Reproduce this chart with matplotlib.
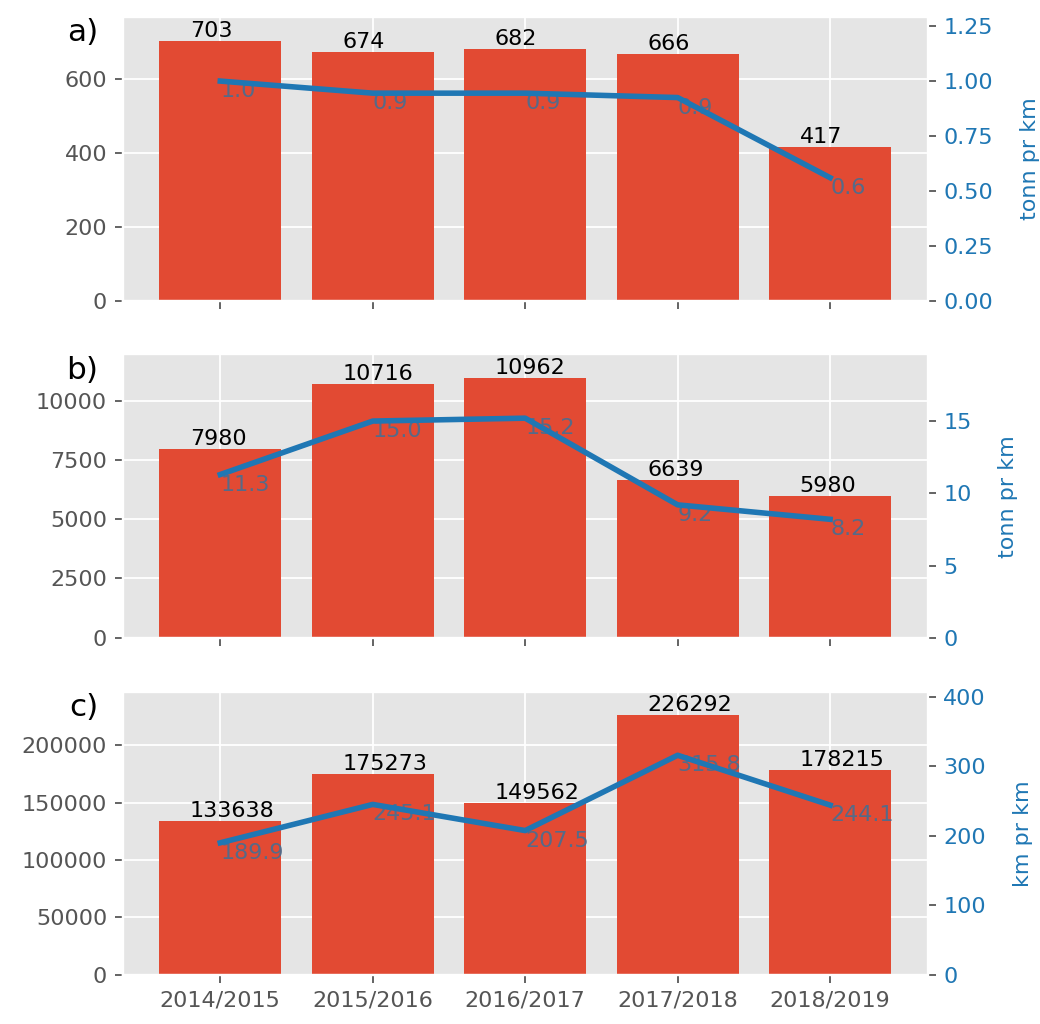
import numpy as np
import matplotlib
matplotlib.use('Agg')
import matplotlib.pyplot as plt
from matplotlib.ticker import MultipleLocator

plt.style.use('ggplot')

seasons = ['2014/2015', '2015/2016', '2016/2017', '2017/2018', '2018/2019']

# bars (left axis)
tonn_a = [703, 674, 682, 666, 417]
tonn_b = [7980, 10716, 10962, 6639, 5980]
km_c = [133638, 175273, 149562, 226292, 178215]

# lines (right axis)
per_km_a = [1.0, 0.945, 0.945, 0.925, 0.56]
per_km_b = [11.3, 15.0, 15.2, 9.2, 8.2]
per_km_c = [189.9, 245.1, 207.5, 315.8, 244.1]

panels = [
    ('a)', tonn_a, per_km_a, 'tonn pr km', 200),
    ('b)', tonn_b, per_km_b, 'tonn pr km', 2500),
    ('c)', km_c, per_km_c, 'km pr km', 50000),
]

blue = '#1f77b4'
bar_col = '#E24A33'
lbl_col = '#566a88'

fig, axes = plt.subplots(3, 1, figsize=(6.5, 6.4), dpi=160, sharex=True)
fig.subplots_adjust(left=0.118, right=0.892, bottom=0.048, top=0.983, hspace=0.19)

x = np.arange(len(seasons))

for ax, (letter, bars, line, rlabel, step) in zip(axes, panels):
    ax.bar(x, bars, width=0.8, color=bar_col)
    for i, v in enumerate(bars):
        ax.text(i - 0.2, v, str(v), ha='left', va='bottom', fontsize=10, color='black')
    ax.set_ylim(0, max(bars) * 1.09)
    ax.yaxis.set_major_locator(MultipleLocator(step))
    ax.tick_params(axis='both', labelsize=10)
    ax.text(-0.03, 0.945, letter, transform=ax.transAxes, ha='right', va='center',
            fontsize=14, color='black')

    ax2 = ax.twinx()
    ax2.grid(False)
    ax2.plot(x, line, color=blue, lw=2.5, zorder=2)
    for i, v in enumerate(line):
        ax2.text(i, v, f'{v:.1f}', ha='left', va='top', fontsize=10,
                 color=lbl_col, zorder=1)
    ax2.set_ylim(0, max(line) * 1.29)
    ax2.set_ylabel(rlabel, color=blue, fontsize=10, labelpad=12)
    ax2.tick_params(axis='y', labelcolor=blue, labelsize=10)

axes[-1].set_xticks(x)
axes[-1].set_xticklabels(seasons)

plt.savefig('out.png', dpi=160)
